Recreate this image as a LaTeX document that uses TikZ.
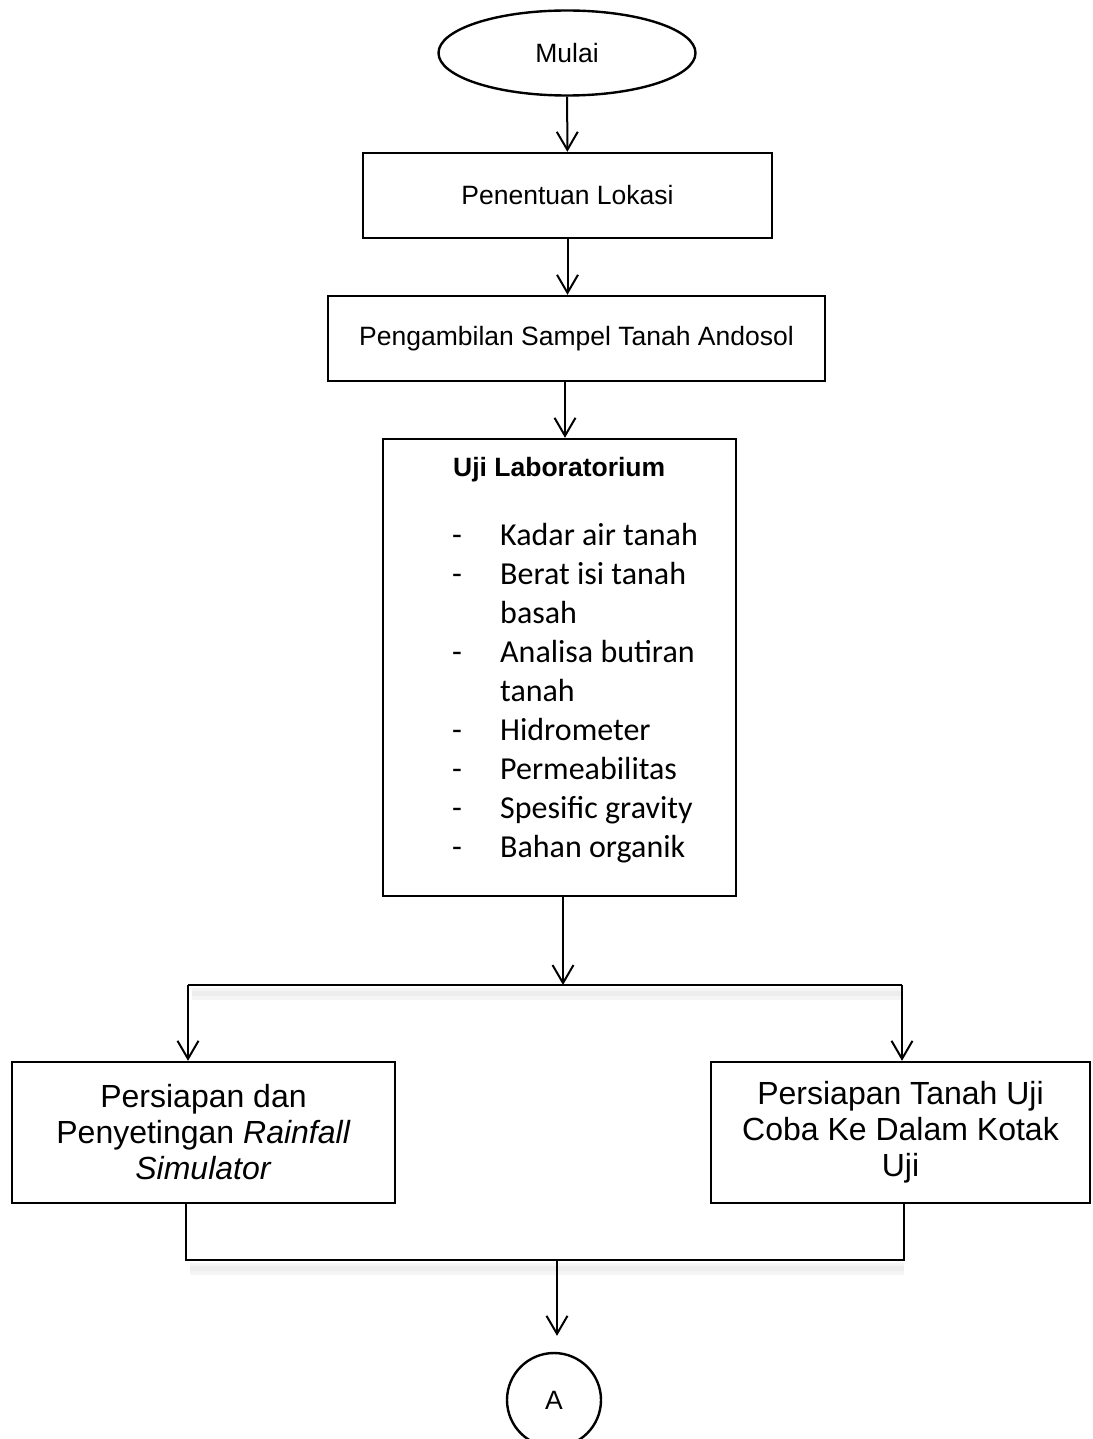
\documentclass[tikz,border=0pt]{standalone}
\usepackage{fontspec}
\setmainfont{Liberation Sans}
\newfontfamily\carlito{Carlito}
\usetikzlibrary{shapes.geometric,arrows.meta}
\begin{document}
\begin{tikzpicture}[x=1pt,y=-1pt,
  box/.style={draw, line width=2.4pt, inner sep=0pt, align=center, font=\fontsize{26.5}{31}\selectfont},
  bigbox/.style={box, font=\fontsize{32}{36}\selectfont},
  arr/.style={line width=2pt, -{Straight Barb[length=18pt,width=21pt,line width=2pt]}},
  ln/.style={line width=2.4pt},
  shadeouter/.style={line width=12pt, draw=black!4},
  shadeinner/.style={line width=5pt, draw=black!7}]
\useasboundingbox (0,0) rectangle (1092,1439);
% main column
\node[box, ellipse, minimum width=257pt, minimum height=85pt] (start) at (567,53) {Mulai};
\node[box, minimum width=409pt, minimum height=85pt] (pen) at (567.5,195.5) {Penentuan Lokasi};
\node[box, minimum width=497pt, minimum height=85pt] (peng) at (576.5,338.5) {Pengambilan Sampel Tanah Andosol};
\node[box, minimum width=353pt, minimum height=457pt] (lab) at (559.5,667.5) {};
\node[anchor=base west, inner sep=0pt, font=\bfseries\fontsize{26.5}{31}\selectfont] (labtitle) at (453,476) {Uji Laboratorium};
\node[anchor=north west, inner sep=0pt, font=\carlito\fontsize{32}{39}\selectfont] (labitems) at (452,518)
  {\begin{tabular}{@{}p{48pt}@{}l@{}}
   -&Kadar air tanah\\
   -&Berat isi tanah\\
    &basah\\
   -&Analisa butiran\\
    &tanah\\
   -&Hidrometer\\
   -&Permeabilitas\\
   -&Spesific gravity\\
   -&Bahan organik
  \end{tabular}};
% branches
\node[bigbox, minimum width=383pt, minimum height=141pt] (left) at (203.5,1132.5)
  {Persiapan dan\\Penyetingan \textit{Rainfall}\\\textit{Simulator}};
\node[bigbox, minimum width=379pt, minimum height=141pt] (right) at (900.5,1132.5)
  {Persiapan Tanah Uji\\Coba Ke Dalam Kotak\\Uji};
\node[box, circle, minimum size=94pt] (A) at (554,1400) {A};
% coordinates
\coordinate (split) at (563,985);
\coordinate (sl) at (188,985);
\coordinate (sr) at (902,985);
\coordinate (jl) at (186,1260);
\coordinate (jr) at (904,1260);
\coordinate (jm) at (557,1260);
% soft shadows under the split and join lines
\draw[shadeouter] ([shift={(4pt,-9pt)}]sl) -- ([shift={(0pt,-9pt)}]sr);
\draw[shadeinner] ([shift={(4pt,-8pt)}]sl) -- ([shift={(0pt,-8pt)}]sr);
\draw[shadeouter] ([shift={(4pt,-9pt)}]jl) -- ([shift={(0pt,-9pt)}]jr);
\draw[shadeinner] ([shift={(4pt,-8pt)}]jl) -- ([shift={(0pt,-8pt)}]jr);
% connectors
\draw[arr] (start) -- (pen);
\draw[arr] (pen.south) -- (pen.south |- peng.north);
\draw[arr] (peng.south -| 565,0) -- (lab.north -| 565,0);
\draw[arr] (lab.south -| split) -- (split);
\draw[ln] (sl) -- (sr);
\draw[arr] (sl) -- (sl |- left.north);
\draw[arr] (sr) -- (sr |- right.north);
\draw[ln] (left.south -| jl) -- (jl) -- (jr) -- (right.south -| jr);
\draw[arr, shorten >=16pt] (jm) -- (jm |- A.north);
\end{tikzpicture}
\end{document}
